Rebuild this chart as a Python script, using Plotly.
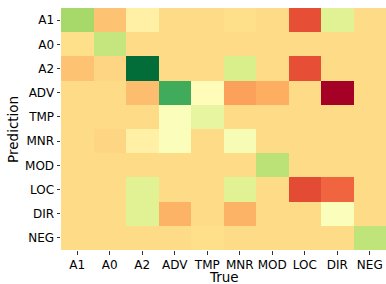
import plotly.graph_objects as go

labels = ["A1", "A0", "A2", "ADV", "TMP", "MNR", "MOD", "LOC", "DIR", "NEG"]
b = 0.39
row_A1 = [0.70, 0.34, 0.45, b, b, 0.40, b, 0.15, 0.58, b]
row_A0 = [0.40, 0.64, b, b, b, b, b, b, b, b]
row_A2 = [0.34, 0.38, 0.99, b, b, 0.60, b, 0.15, b, b]
row_ADV = [b, b, 0.33, 0.85, 0.49, 0.28, 0.30, b, 0.0, b]
row_TMP = [b, b, b, 0.51, 0.56, b, b, b, b, b]
row_MNR = [b, 0.38, 0.45, 0.51, b, 0.52, b, b, b, b]
row_MOD = [b, b, b, b, b, b, 0.66, b, b, b]
row_LOC = [b, b, 0.58, b, b, 0.58, b, 0.145, 0.185, b]
row_DIR = [b, b, 0.58, 0.31, b, 0.31, b, b, 0.51, b]
row_NEG = [b, b, b, b, 0.40, b, b, b, b, 0.65]
z = [row_A1, row_A0, row_A2, row_ADV, row_TMP, row_MNR, row_MOD, row_LOC, row_DIR, row_NEG]

rdylgn = [
    [0.0, "#a50026"], [0.1, "#d73027"], [0.2, "#f46d43"], [0.3, "#fdae61"],
    [0.4, "#fee08b"], [0.5, "#ffffbf"], [0.6, "#d9ef8b"], [0.7, "#a6d96a"],
    [0.8, "#66bd63"], [0.9, "#1a9850"], [1.0, "#006837"],
]

fig = go.Figure(go.Heatmap(
    z=z, x=labels, y=labels, colorscale=rdylgn, zmin=0, zmax=1,
    showscale=False,
))
font = dict(family="DejaVu Sans", color="#000")
fig.update_layout(
    width=386, height=284,
    margin=dict(l=61, r=0, t=8, b=34),
    paper_bgcolor="white", plot_bgcolor="white",
    font=font,
    annotations=[
        dict(text="True", xref="paper", yref="paper", x=0.5, y=-0.112,
             xanchor="center", yanchor="middle", showarrow=False,
             font=dict(size=13.5, family="DejaVu Sans", color="#000")),
        dict(text="Prediction", xref="paper", yref="paper", x=-0.148, y=0.5,
             xanchor="center", yanchor="middle", showarrow=False, textangle=-90,
             font=dict(size=13.5, family="DejaVu Sans", color="#000")),
    ],
)
fig.update_xaxes(
    tickfont=dict(size=12), ticks="outside", ticklen=3.5, tickcolor="#333",
    showgrid=False, zeroline=False, showline=False, automargin=False,
)
fig.update_yaxes(
    tickfont=dict(size=12), ticks="outside", ticklen=3.5, tickcolor="#333",
    autorange="reversed", showgrid=False, zeroline=False, showline=False, automargin=False,
)
fig.write_html("out.html", config={"displayModeBar": False},
               post_script="document.body.style.margin='0';document.body.style.overflow='hidden';")
